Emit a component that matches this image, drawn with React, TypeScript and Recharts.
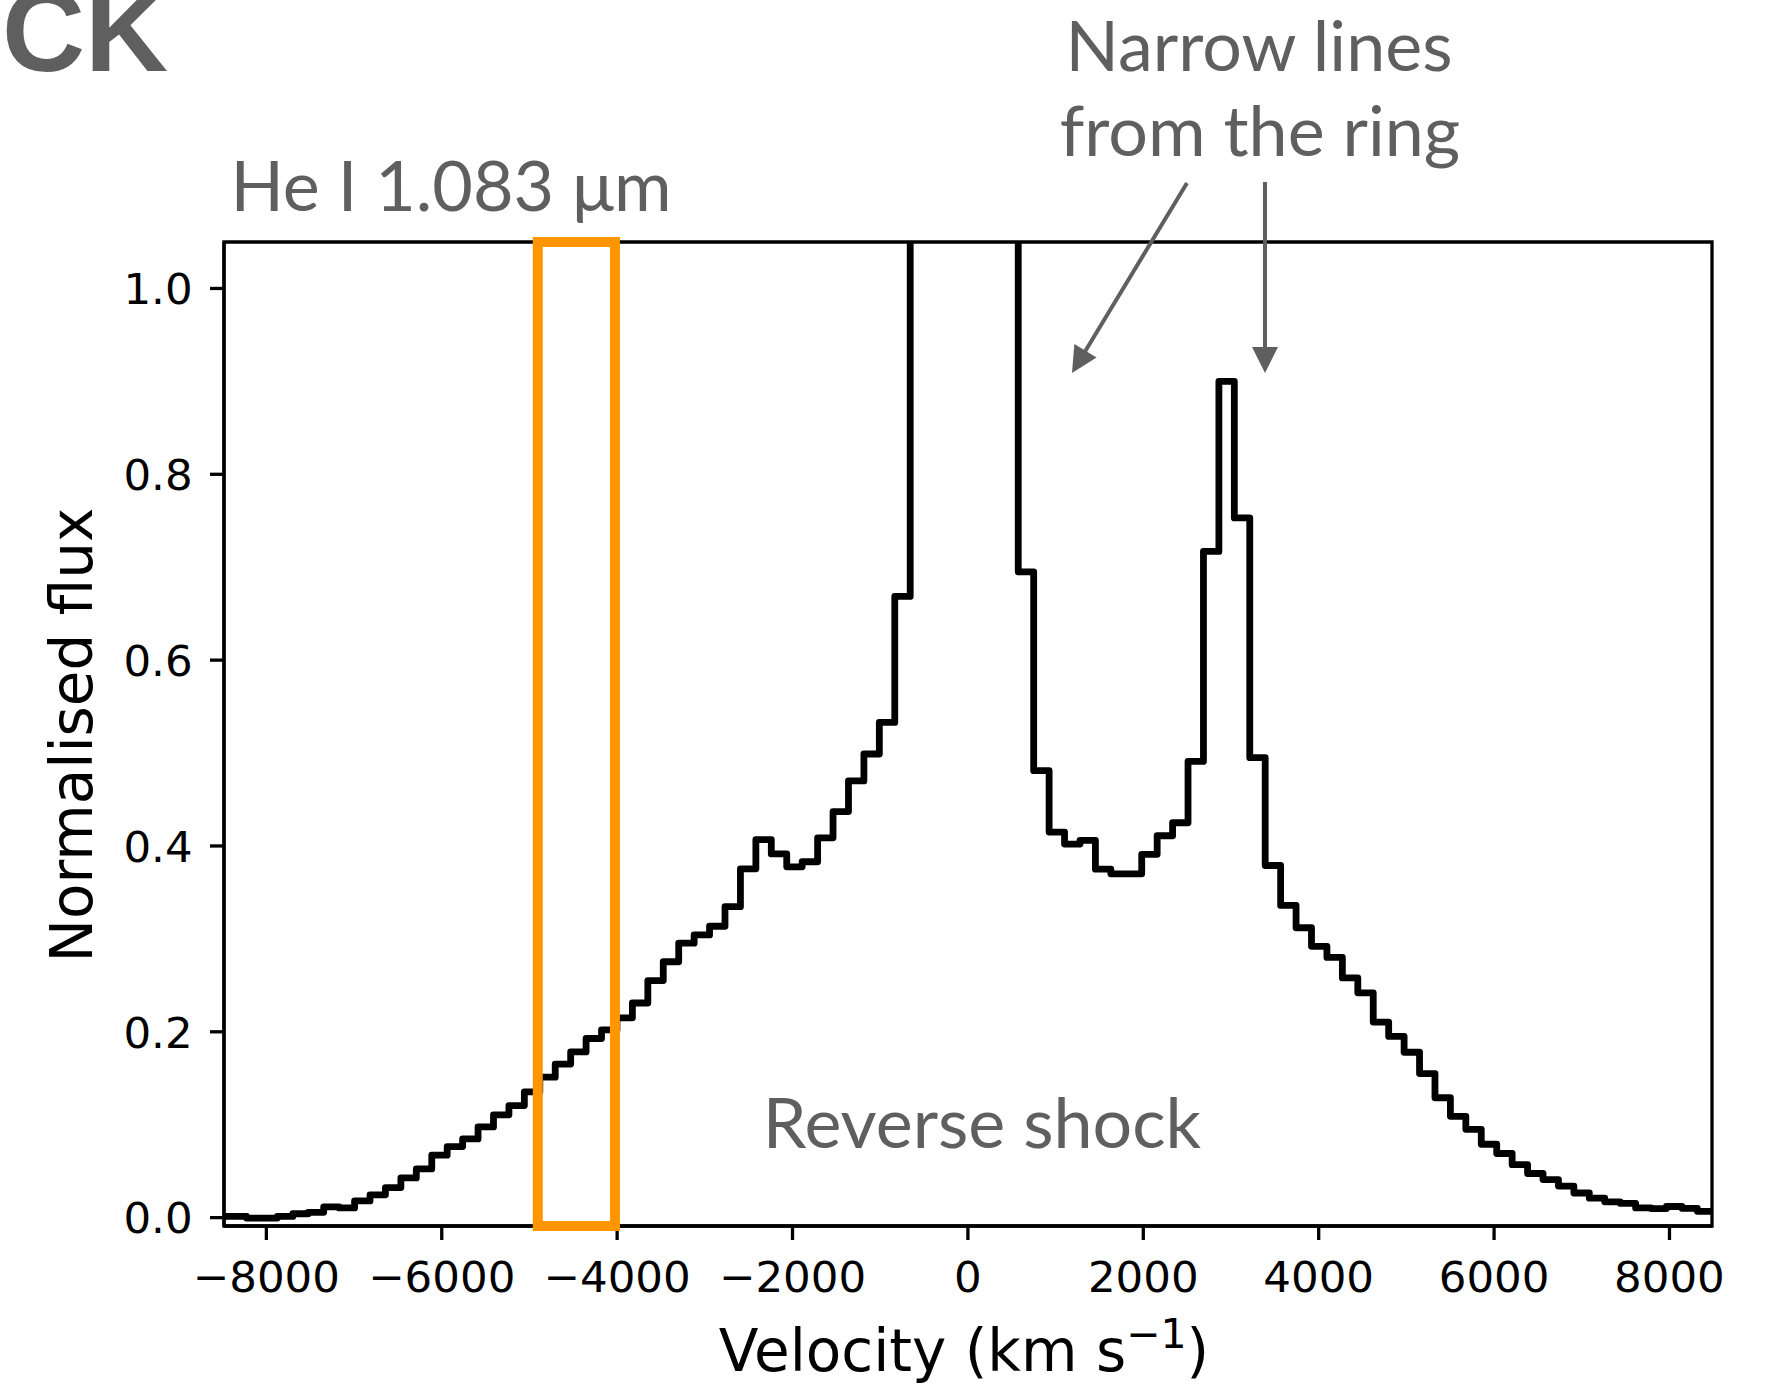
import React from 'react';
import { LineChart, Line, XAxis, YAxis, ReferenceArea } from 'recharts';

// Left edges of the spectral bins (km/s); the last entry closes the final bin.
const binEdges = [
  -8578, -8402, -8226, -8050, -7874, -7698, -7522, -7346, -7170, -6994,
  -6818, -6642, -6466, -6290, -6114, -5938, -5762, -5586, -5410, -5234,
  -5058, -4882, -4706, -4530, -4354, -4178, -4002, -3826, -3650, -3474,
  -3298, -3122, -2946, -2770, -2594, -2418, -2242, -2066, -1890, -1714,
  -1538, -1362, -1186, -1010, -834, -658, -482, -306, -130, 46,
  222, 398, 574, 750, 926, 1102, 1278, 1454, 1630, 1806,
  1982, 2158, 2334, 2510, 2686, 2862, 3038, 3214, 3390, 3566,
  3742, 3918, 4094, 4270, 4446, 4622, 4798, 4974, 5150, 5326,
  5502, 5678, 5854, 6030, 6206, 6382, 6558, 6734, 6910, 7086,
  7262, 7438, 7614, 7790, 7966, 8142, 8318, 8494,
];

// Normalised flux in each bin (central bins are off the top of the axes)
const fluxPerBin = [
  0.0013, 0.0013, -0.0005, -0.0005, 0.0013, 0.0042, 0.0057, 0.0116, 0.0105, 0.018,
  0.0246, 0.0324, 0.0427, 0.0524, 0.0672, 0.0765, 0.0847, 0.0976, 0.1106, 0.1206,
  0.1353, 0.1512, 0.1653, 0.1783, 0.1928, 0.202, 0.215, 0.231, 0.2551, 0.2754,
  0.2954, 0.3043, 0.3136, 0.3347, 0.3754, 0.4068, 0.3914, 0.3776, 0.383, 0.4088,
  0.437, 0.47, 0.499, 0.533, 0.6686,
  1.6, 2.6, 3.4, 3.6, 2.9, 2.0, 1.3,
  0.695, 0.481, 0.415, 0.402, 0.406, 0.375, 0.37, 0.37, 0.391, 0.411,
  0.425, 0.491, 0.717, 0.9, 0.753, 0.495, 0.379, 0.336, 0.312, 0.292,
  0.28, 0.258, 0.242, 0.2105, 0.195, 0.178, 0.155, 0.129, 0.109, 0.095,
  0.079, 0.069, 0.057, 0.0475, 0.041, 0.034, 0.0265, 0.021, 0.017, 0.0154,
  0.0105, 0.0098, 0.012, 0.01, 0.0068,
];

const xTicks = [-8000, -6000, -4000, -2000, 0, 2000, 4000, 6000, 8000];
const yTicks = [0, 0.2, 0.4, 0.6, 0.8, 1.0];
const xDomain: [number, number] = [-8483, 8485];
const yDomain: [number, number] = [-0.009, 1.05];
const highlightWindow = [-4905, -4025];

const data = binEdges.map((v, i) => ({
  v,
  flux: fluxPerBin[Math.min(i, fluxPerBin.length - 1)],
}));

const TICK_FONT = '"DejaVu Sans", sans-serif';
const NOTE_FONT = 'Lato, "Open Sans", sans-serif';
const GREY = '#5f5f5f';

const fmtX = (v: number) => (v < 0 ? '\u2212' + Math.abs(v) : String(v));

const XTick = (props: any) => {
  const { x, y, payload } = props;
  return (
    <text x={x} y={y} dy={42} textAnchor="middle" fontFamily={TICK_FONT} fontSize={43.5} fill="#000">
      {fmtX(payload.value)}
    </text>
  );
};

const YTick = (props: any) => {
  const { x, y, payload } = props;
  return (
    <text x={x} y={y} dy={15.8} textAnchor="end" fontFamily={TICK_FONT} fontSize={43.5} fill="#000">
      {Number(payload.value).toFixed(1)}
    </text>
  );
};

const Arrow = ({ tail, tip }: { tail: [number, number]; tip: [number, number] }) => {
  const dx = tip[0] - tail[0];
  const dy = tip[1] - tail[1];
  const len = Math.hypot(dx, dy);
  const ux = dx / len;
  const uy = dy / len;
  const hl = 26;
  const hw = 13;
  const bx = tip[0] - hl * ux;
  const by = tip[1] - hl * uy;
  const nx = -uy;
  const ny = ux;
  return (
    <g>
      <line x1={tail[0]} y1={tail[1]} x2={bx + ux * 2} y2={by + uy * 2} stroke={GREY} strokeWidth={4} />
      <polygon
        points={`${tip[0]},${tip[1]} ${bx + nx * hw},${by + ny * hw} ${bx - nx * hw},${by - ny * hw}`}
        fill={GREY}
      />
    </g>
  );
};

export default function App() {
  const axisStroke = { stroke: '#000', strokeWidth: 3.3 };
  return (
    <div style={{ position: 'absolute', left: 0, top: 0, width: 1783, height: 1384, background: '#fff' }}>
      <LineChart
        width={1783}
        height={1384}
        data={data}
        margin={{ top: 242, right: 71, bottom: 0, left: 0 }}
      >
        <XAxis
          xAxisId={0}
          type="number"
          dataKey="v"
          domain={xDomain}
          allowDataOverflow
          ticks={xTicks}
          interval={0}
          height={158}
          tickSize={14}
          tickMargin={10}
          axisLine={axisStroke}
          tickLine={axisStroke}
          tick={<XTick />}
        />
        <YAxis
          yAxisId={0}
          type="number"
          domain={yDomain}
          allowDataOverflow
          ticks={yTicks}
          interval={0}
          width={224}
          tickSize={14}
          tickMargin={17.4}
          axisLine={axisStroke}
          tickLine={axisStroke}
          tick={<YTick />}
        />
        <Line
          xAxisId={0}
          yAxisId={0}
          type="stepAfter"
          dataKey="flux"
          stroke="#000"
          strokeWidth={6.8}
          strokeLinejoin="round"
          dot={false}
          activeDot={false}
          isAnimationActive={false}
        />
        <ReferenceArea
          xAxisId={0}
          yAxisId={0}
          x1={xDomain[0]}
          x2={xDomain[1]}
          y1={yDomain[0]}
          y2={yDomain[1]}
          stroke="#000"
          strokeWidth={3.3}
          fill="none"
          fillOpacity={0}
          ifOverflow="visible"
          zIndex={1900}
        />
        <ReferenceArea
          xAxisId={0}
          yAxisId={0}
          x1={highlightWindow[0]}
          x2={highlightWindow[1]}
          y1={yDomain[0]}
          y2={yDomain[1]}
          stroke="#ff9500"
          strokeWidth={10}
          fill="none"
          fillOpacity={0}
          ifOverflow="visible"
          zIndex={2000}
        />
      </LineChart>
      <svg
        width={1783}
        height={1384}
        style={{ position: 'absolute', left: 0, top: 0, pointerEvents: 'none' }}
      >
        <text x={168} y={71} textAnchor="end" fontFamily='"Liberation Sans", Arial, sans-serif' fontWeight="bold" fontSize={115} fill={GREY}>
          CK
        </text>
        <text x={451} y={211} textAnchor="middle" fontFamily={NOTE_FONT} fontSize={70} fill={GREY}>
          He I 1.083 μm
        </text>
        <text x={1259} y={71} textAnchor="middle" fontFamily={NOTE_FONT} fontSize={70} fill={GREY}>
          Narrow lines
        </text>
        <text x={1260} y={156} textAnchor="middle" fontFamily={NOTE_FONT} fontSize={70} fill={GREY}>
          from the ring
        </text>
        <text x={982} y={1148} textAnchor="middle" fontFamily={NOTE_FONT} fontSize={70} fill={GREY}>
          Reverse shock
        </text>
        <Arrow tail={[1187, 183]} tip={[1072, 373]} />
        <Arrow tail={[1265, 182]} tip={[1265, 373]} />
        <text x={964} y={1371} textAnchor="middle" fontFamily={TICK_FONT} fontSize={58} fill="#000">
          Velocity (km s
          <tspan fontSize={41} dy={-23}>{'\u22121'}</tspan>
          <tspan dy={23}>)</tspan>
        </text>
        <text
          x={92}
          y={735}
          textAnchor="middle"
          transform="rotate(-90 92 735)"
          fontFamily={TICK_FONT}
          fontSize={58}
          fill="#000"
        >
          Normalised flux
        </text>
      </svg>
    </div>
  );
}
